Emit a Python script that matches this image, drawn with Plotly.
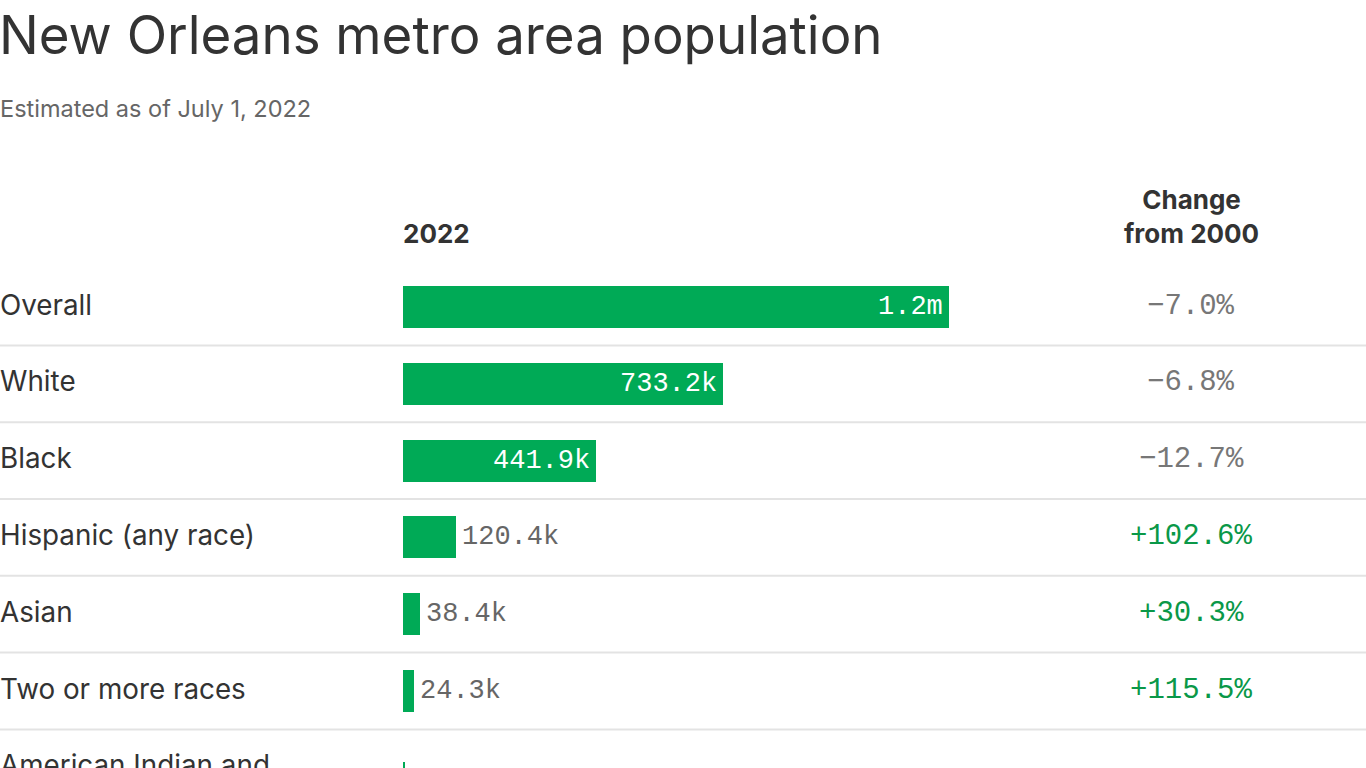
import plotly.graph_objects as go

# ---- data ----
categories = ["Overall", "White", "Black", "Hispanic (any race)", "Asian",
              "Two or more races", "American Indian and<br>Alaska Native"]
population_2022_k = [1249.0, 733.2, 441.9, 120.4, 38.4, 24.3, 4.6]
change_from_2000_pct = [-7.0, -6.8, -12.7, 102.6, 30.3, 115.5, -3.5]

TITLE = "New Orleans metro area population"
SUBTITLE = "Estimated as of July 1, 2022"
HEAD_BAR = "2022"
HEAD_CHANGE = "Change<br>from 2000"

# ---- styles ----
W, H = 1366, 768
BAR_COLOR = "#00aa56"
DARK = "#333333"
GREY = "#666666"
GREY_VAL = "#777777"
GREEN_TXT = "#0a9848"
LINE = "#e3e3e3"
SANS = "Inter, Liberation Sans, Arial, sans-serif"
MONO = "Liberation Mono, DejaVu Sans Mono, monospace"

ROW_PX = 76.8          # pixel height of a single-line row
FIRST_CENTER_PX = 307  # pixel centre of first bar
PX_PER_K = 0.437
BAR_X0_PX = 403
CHANGE_X_PX = 1191

# row geometry (in row units)
heights = [1 + 0.4 * (c.count("<br>")) for c in categories]
tops, centers = [], []
t = -0.5
for h in heights:
    tops.append(t)
    centers.append(t + h / 2)
    t += h
bottoms = [tp + h for tp, h in zip(tops, heights)]

def fmt_val(v):
    return f"{v/1000:.1f}m" if v >= 1000 else f"{v:.1f}k"

def fmt_chg(c):
    return ("+" if c > 0 else "\u2212") + f"{abs(c):.1f}%"

fig = go.Figure()
fig.add_trace(go.Bar(
    x=population_2022_k, y=centers, orientation="h",
    width=42 / ROW_PX, marker=dict(color=BAR_COLOR, line=dict(width=0)),
    hoverinfo="skip", showlegend=False,
))

ann = []
# title / subtitle
ann.append(dict(text=TITLE, x=0, y=1 - 35 / H, xref="paper", yref="paper",
                xanchor="left", yanchor="middle", xshift=-3, showarrow=False,
                font=dict(family=SANS, size=52.8, color=DARK)))
ann.append(dict(text=SUBTITLE, x=0, y=1 - 108 / H, xref="paper", yref="paper",
                xanchor="left", yanchor="middle", xshift=-2, showarrow=False,
                font=dict(family=SANS, size=23.5, color=GREY)))
# headers
ann.append(dict(text=f"<b>{HEAD_BAR}</b>", x=0, y=1 - 233 / H, xref="x", yref="paper",
                xanchor="left", yanchor="middle", xshift=-2, showarrow=False,
                font=dict(family=SANS, size=26, color=DARK)))
ann.append(dict(text=f"<b>{HEAD_CHANGE}</b>", x=CHANGE_X_PX / W, y=1 - 217 / H,
                xref="paper", yref="paper", xanchor="center", yanchor="middle",
                showarrow=False, align="center",
                font=dict(family=SANS, size=26, color=DARK)))

for cat, v, c, tp, cy in zip(categories, population_2022_k, change_from_2000_pct, tops, centers):
    ann.append(dict(text=cat, x=0, y=tp, xref="paper", yref="y", xanchor="left",
                    yanchor="top", yshift=-17, xshift=-2, showarrow=False, align="left",
                    font=dict(family=SANS, size=27.8, color=DARK)))
    inside = v > 200
    ann.append(dict(text=fmt_val(v), x=v, y=cy, xref="x", yref="y",
                    xanchor="right" if inside else "left",
                    xshift=-4 if inside else 4, yanchor="middle", showarrow=False,
                    font=dict(family=MONO, size=27, color="#ffffff" if inside else GREY)))
    ann.append(dict(text=fmt_chg(c), x=CHANGE_X_PX / W, y=cy, xref="paper", yref="y",
                    xanchor="center", yanchor="middle", yshift=1, showarrow=False,
                    font=dict(family=MONO, size=29, color=GREEN_TXT if c > 0 else GREY_VAL)))

shapes = [dict(type="line", xref="paper", yref="y", x0=0, x1=1, y0=b, y1=b,
               line=dict(color=LINE, width=2), layer="below") for b in bottoms]

fig.update_layout(
    width=W, height=H, margin=dict(l=0, r=0, t=0, b=0),
    paper_bgcolor="white", plot_bgcolor="white",
    annotations=ann, shapes=shapes,
    xaxis=dict(range=[-BAR_X0_PX / PX_PER_K, (W - BAR_X0_PX) / PX_PER_K],
               visible=False, fixedrange=True),
    yaxis=dict(range=[(H - FIRST_CENTER_PX) / ROW_PX, -FIRST_CENTER_PX / ROW_PX],
               visible=False, fixedrange=True),
    bargap=0,
)
fig.write_html("out.html", config={"displayModeBar": False},
               post_script="document.body.style.margin='0';document.body.style.overflow='hidden';")
